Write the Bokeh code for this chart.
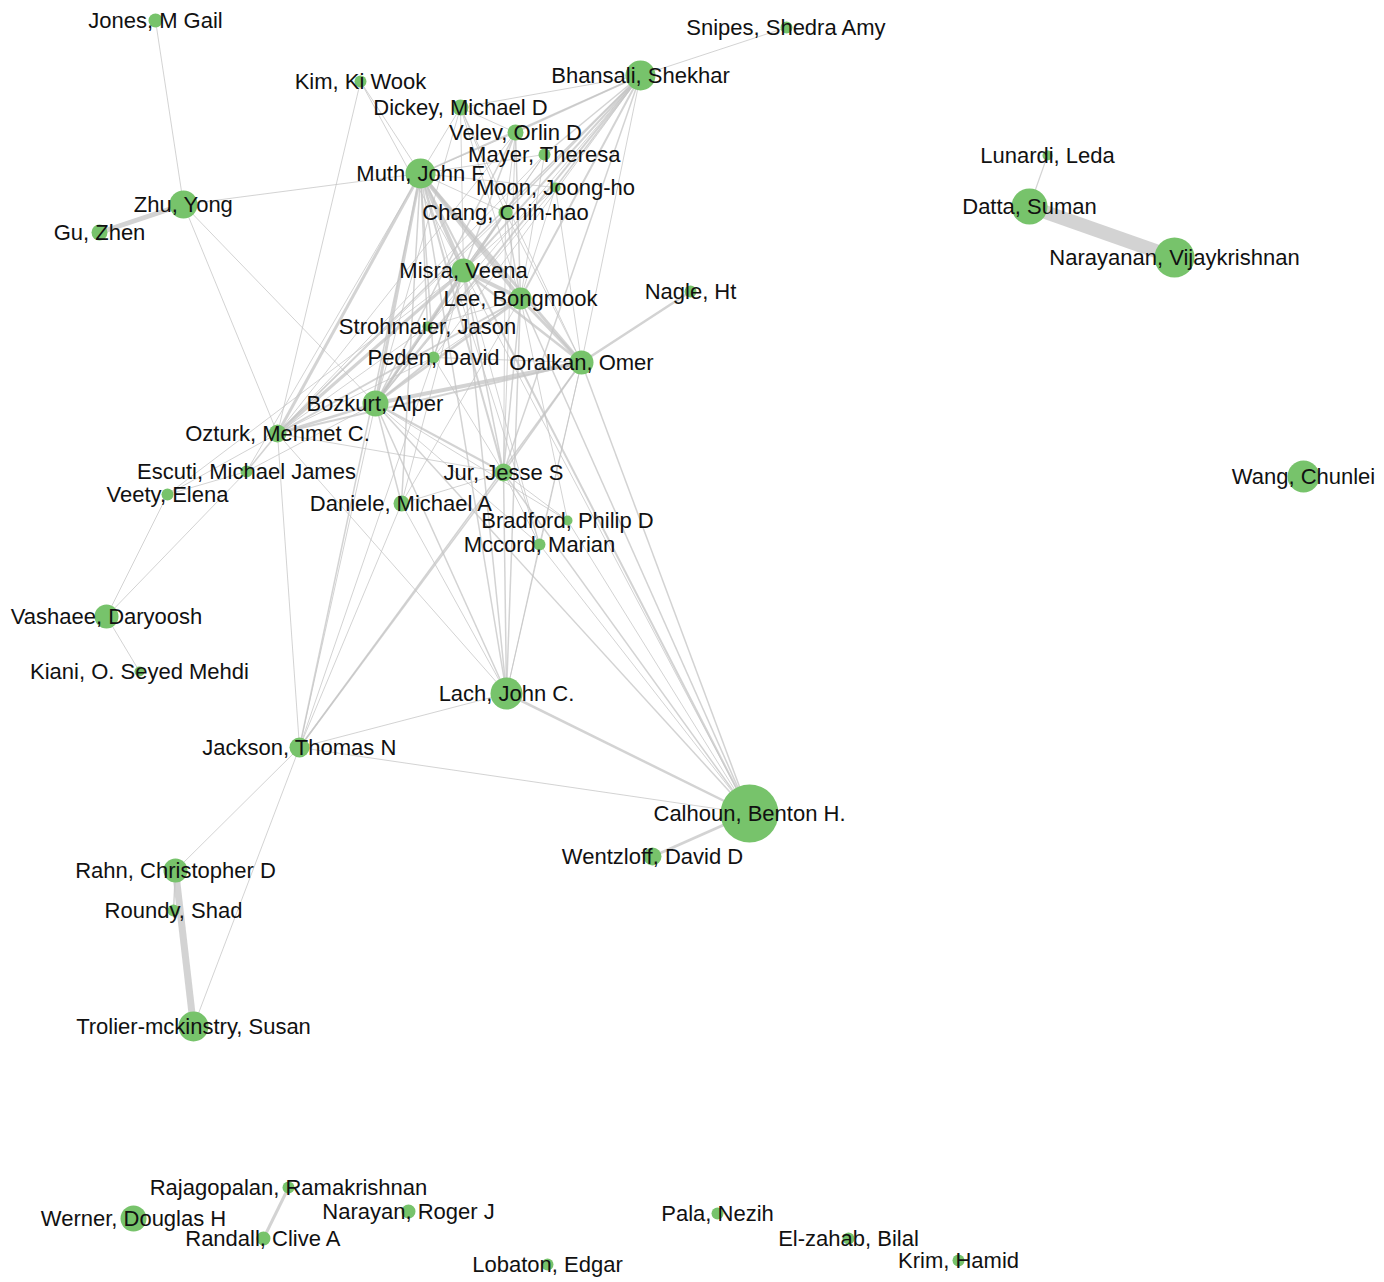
from bokeh.plotting import figure
from bokeh.models import ColumnDataSource, Range1d
from bokeh.core.properties import value
from bokeh.embed import file_html
from bokeh.resources import INLINE

# ---- nodes (layout coordinates, size = node diameter) ----
names = [
    "Jones, M Gail", "Snipes, Shedra Amy", "Bhansali, Shekhar", "Kim, Ki Wook",
    "Dickey, Michael D", "Velev, Orlin D", "Mayer, Theresa", "Muth, John F",
    "Moon, Joong-ho", "Chang, Chih-hao", "Zhu, Yong", "Gu, Zhen",
    "Misra, Veena", "Lee, Bongmook", "Strohmaier, Jason", "Peden, David",
    "Oralkan, Omer", "Nagle, Ht", "Bozkurt, Alper", "Ozturk, Mehmet C.",
    "Escuti, Michael James", "Veety, Elena", "Jur, Jesse S", "Daniele, Michael A",
    "Bradford, Philip D", "Mccord, Marian", "Vashaee, Daryoosh", "Kiani, O. Seyed Mehdi",
    "Lach, John C.", "Jackson, Thomas N", "Calhoun, Benton H.", "Wentzloff, David D",
    "Rahn, Christopher D", "Roundy, Shad", "Trolier-mckinstry, Susan", "Lunardi, Leda",
    "Datta, Suman", "Narayanan, Vijaykrishnan", "Wang, Chunlei", "Rajagopalan, Ramakrishnan",
    "Werner, Douglas H", "Randall, Clive A", "Narayan, Roger J", "Pala, Nezih",
    "El-zahab, Bilal", "Krim, Hamid", "Lobaton, Edgar",
]
node_x = [
    155, 786, 640, 360,
    460, 515, 544, 420,
    555, 505, 183, 99,
    463, 520, 427, 433,
    581, 690, 375, 277,
    246, 167, 503, 401,
    567, 539, 106, 139,
    506, 299, 749, 652,
    175, 173, 193, 1047,
    1029, 1174, 1303, 288,
    133, 263, 408, 717,
    848, 958, 547,
]
node_y = [
    20, 27, 75, 81,
    107, 132, 154, 173,
    187, 212, 204, 232,
    270, 298, 326, 357,
    362, 291, 403, 433,
    471, 494, 472, 503,
    520, 544, 616, 671,
    693, 747, 813, 856,
    870, 910, 1026, 155,
    206, 257, 476, 1187,
    1218, 1238, 1211, 1213,
    1238, 1260, 1264,
]
node_size = [
    14, 12, 30, 12,
    16, 16, 12, 30,
    10, 14, 28, 16,
    24, 22, 10, 12,
    24, 12, 26, 18,
    12, 12, 18, 16,
    10, 12, 24, 10,
    32, 20, 58, 18,
    24, 12, 30, 10,
    36, 40, 32, 12,
    26, 14, 14, 12,
    12, 12, 12,
]

# ---- edges (source, target, weight) ----
edges = [
    ("Muth, John F", "Zhu, Yong", 1), ("Muth, John F", "Dickey, Michael D", 1),
    ("Muth, John F", "Velev, Orlin D", 1), ("Muth, John F", "Mayer, Theresa", 1),
    ("Muth, John F", "Bhansali, Shekhar", 1.5), ("Muth, John F", "Chang, Chih-hao", 1),
    ("Muth, John F", "Misra, Veena", 4), ("Muth, John F", "Lee, Bongmook", 4),
    ("Muth, John F", "Oralkan, Omer", 3), ("Muth, John F", "Bozkurt, Alper", 3),
    ("Muth, John F", "Ozturk, Mehmet C.", 3), ("Muth, John F", "Peden, David", 1.5),
    ("Muth, John F", "Strohmaier, Jason", 1.5), ("Muth, John F", "Jur, Jesse S", 2),
    ("Muth, John F", "Daniele, Michael A", 1.5), ("Muth, John F", "Lach, John C.", 1.5),
    ("Muth, John F", "Calhoun, Benton H.", 2), ("Muth, John F", "Jackson, Thomas N", 1.5),
    ("Muth, John F", "Mccord, Marian", 1), ("Muth, John F", "Moon, Joong-ho", 1),
    ("Muth, John F", "Escuti, Michael James", 1), ("Muth, John F", "Kim, Ki Wook", 1),
    ("Bhansali, Shekhar", "Snipes, Shedra Amy", 1), ("Bhansali, Shekhar", "Dickey, Michael D", 1),
    ("Bhansali, Shekhar", "Velev, Orlin D", 1.5), ("Bhansali, Shekhar", "Mayer, Theresa", 1.5),
    ("Bhansali, Shekhar", "Moon, Joong-ho", 1.5), ("Bhansali, Shekhar", "Chang, Chih-hao", 1.5),
    ("Bhansali, Shekhar", "Misra, Veena", 2), ("Bhansali, Shekhar", "Lee, Bongmook", 2),
    ("Bhansali, Shekhar", "Oralkan, Omer", 1), ("Bhansali, Shekhar", "Bozkurt, Alper", 2),
    ("Bhansali, Shekhar", "Ozturk, Mehmet C.", 1.5), ("Bhansali, Shekhar", "Peden, David", 1),
    ("Bhansali, Shekhar", "Strohmaier, Jason", 1), ("Bhansali, Shekhar", "Jur, Jesse S", 1.5),
    ("Kim, Ki Wook", "Ozturk, Mehmet C.", 1), ("Kim, Ki Wook", "Misra, Veena", 1),
    ("Dickey, Michael D", "Velev, Orlin D", 1), ("Dickey, Michael D", "Misra, Veena", 1),
    ("Dickey, Michael D", "Lee, Bongmook", 1), ("Dickey, Michael D", "Chang, Chih-hao", 1),
    ("Dickey, Michael D", "Bozkurt, Alper", 1), ("Dickey, Michael D", "Oralkan, Omer", 1),
    ("Velev, Orlin D", "Misra, Veena", 1.5), ("Velev, Orlin D", "Lee, Bongmook", 1.5),
    ("Velev, Orlin D", "Chang, Chih-hao", 1), ("Velev, Orlin D", "Bozkurt, Alper", 1.5),
    ("Velev, Orlin D", "Ozturk, Mehmet C.", 1), ("Velev, Orlin D", "Jur, Jesse S", 1),
    ("Mayer, Theresa", "Misra, Veena", 1), ("Mayer, Theresa", "Lee, Bongmook", 1),
    ("Mayer, Theresa", "Bozkurt, Alper", 1), ("Mayer, Theresa", "Ozturk, Mehmet C.", 1),
    ("Moon, Joong-ho", "Misra, Veena", 1), ("Moon, Joong-ho", "Lee, Bongmook", 1),
    ("Moon, Joong-ho", "Oralkan, Omer", 1), ("Moon, Joong-ho", "Bozkurt, Alper", 1),
    ("Chang, Chih-hao", "Misra, Veena", 1.5), ("Chang, Chih-hao", "Lee, Bongmook", 1.5),
    ("Chang, Chih-hao", "Oralkan, Omer", 1), ("Chang, Chih-hao", "Bozkurt, Alper", 1.5),
    ("Chang, Chih-hao", "Ozturk, Mehmet C.", 1), ("Chang, Chih-hao", "Jur, Jesse S", 1),
    ("Misra, Veena", "Lee, Bongmook", 4), ("Misra, Veena", "Oralkan, Omer", 2.5),
    ("Misra, Veena", "Bozkurt, Alper", 3), ("Misra, Veena", "Ozturk, Mehmet C.", 3),
    ("Misra, Veena", "Peden, David", 1.5), ("Misra, Veena", "Strohmaier, Jason", 1.5),
    ("Misra, Veena", "Jur, Jesse S", 1.5), ("Misra, Veena", "Lach, John C.", 1.5),
    ("Misra, Veena", "Calhoun, Benton H.", 1), ("Misra, Veena", "Jackson, Thomas N", 1),
    ("Misra, Veena", "Daniele, Michael A", 1), ("Misra, Veena", "Mccord, Marian", 1),
    ("Lee, Bongmook", "Oralkan, Omer", 3), ("Lee, Bongmook", "Bozkurt, Alper", 2.5),
    ("Lee, Bongmook", "Ozturk, Mehmet C.", 2), ("Lee, Bongmook", "Peden, David", 1),
    ("Lee, Bongmook", "Strohmaier, Jason", 1), ("Lee, Bongmook", "Jur, Jesse S", 1.5),
    ("Lee, Bongmook", "Lach, John C.", 1.5), ("Lee, Bongmook", "Calhoun, Benton H.", 1.5),
    ("Lee, Bongmook", "Daniele, Michael A", 1), ("Lee, Bongmook", "Bradford, Philip D", 1),
    ("Oralkan, Omer", "Nagle, Ht", 2.5), ("Oralkan, Omer", "Bozkurt, Alper", 4),
    ("Oralkan, Omer", "Ozturk, Mehmet C.", 2), ("Oralkan, Omer", "Jur, Jesse S", 1.5),
    ("Oralkan, Omer", "Jackson, Thomas N", 1.5), ("Oralkan, Omer", "Lach, John C.", 1),
    ("Oralkan, Omer", "Calhoun, Benton H.", 1.5), ("Oralkan, Omer", "Mccord, Marian", 1),
    ("Oralkan, Omer", "Peden, David", 1),
    ("Bozkurt, Alper", "Ozturk, Mehmet C.", 2.5), ("Bozkurt, Alper", "Peden, David", 2),
    ("Bozkurt, Alper", "Strohmaier, Jason", 1.5), ("Bozkurt, Alper", "Jur, Jesse S", 2),
    ("Bozkurt, Alper", "Daniele, Michael A", 1.5), ("Bozkurt, Alper", "Bradford, Philip D", 1),
    ("Bozkurt, Alper", "Mccord, Marian", 1), ("Bozkurt, Alper", "Lach, John C.", 1.5),
    ("Bozkurt, Alper", "Calhoun, Benton H.", 1.5), ("Bozkurt, Alper", "Jackson, Thomas N", 1),
    ("Bozkurt, Alper", "Escuti, Michael James", 1),
    ("Ozturk, Mehmet C.", "Escuti, Michael James", 1.5), ("Ozturk, Mehmet C.", "Veety, Elena", 1),
    ("Ozturk, Mehmet C.", "Jackson, Thomas N", 1), ("Ozturk, Mehmet C.", "Jur, Jesse S", 1),
    ("Ozturk, Mehmet C.", "Lach, John C.", 1), ("Ozturk, Mehmet C.", "Zhu, Yong", 1),
    ("Ozturk, Mehmet C.", "Peden, David", 1), ("Ozturk, Mehmet C.", "Strohmaier, Jason", 1),
    ("Escuti, Michael James", "Veety, Elena", 1), ("Escuti, Michael James", "Vashaee, Daryoosh", 1),
    ("Veety, Elena", "Vashaee, Daryoosh", 1), ("Veety, Elena", "Misra, Veena", 1),
    ("Vashaee, Daryoosh", "Kiani, O. Seyed Mehdi", 1),
    ("Jur, Jesse S", "Daniele, Michael A", 1), ("Jur, Jesse S", "Bradford, Philip D", 1),
    ("Jur, Jesse S", "Mccord, Marian", 1), ("Jur, Jesse S", "Lach, John C.", 1.5),
    ("Jur, Jesse S", "Calhoun, Benton H.", 1.5), ("Jur, Jesse S", "Jackson, Thomas N", 1.5),
    ("Jur, Jesse S", "Peden, David", 1),
    ("Jackson, Thomas N", "Lach, John C.", 1), ("Jackson, Thomas N", "Calhoun, Benton H.", 1),
    ("Jackson, Thomas N", "Rahn, Christopher D", 1), ("Jackson, Thomas N", "Trolier-mckinstry, Susan", 1),
    ("Jackson, Thomas N", "Daniele, Michael A", 1),
    ("Lach, John C.", "Calhoun, Benton H.", 2.5), ("Lach, John C.", "Mccord, Marian", 1),
    ("Lach, John C.", "Daniele, Michael A", 1),
    ("Calhoun, Benton H.", "Wentzloff, David D", 3), ("Calhoun, Benton H.", "Mccord, Marian", 1),
    ("Calhoun, Benton H.", "Bradford, Philip D", 1),
    ("Rahn, Christopher D", "Trolier-mckinstry, Susan", 7), ("Rahn, Christopher D", "Roundy, Shad", 1.5),
    ("Zhu, Yong", "Gu, Zhen", 5), ("Zhu, Yong", "Jones, M Gail", 1), ("Zhu, Yong", "Bozkurt, Alper", 1),
    ("Datta, Suman", "Narayanan, Vijaykrishnan", 14), ("Datta, Suman", "Lunardi, Leda", 1.2),
    ("Rajagopalan, Ramakrishnan", "Randall, Clive A", 3),
]

pos = {n: (x, y) for n, x, y in zip(names, node_x, node_y)}
esrc = ColumnDataSource(dict(
    x0=[pos[a][0] for a, b, w in edges],
    y0=[pos[a][1] for a, b, w in edges],
    x1=[pos[b][0] for a, b, w in edges],
    y1=[pos[b][1] for a, b, w in edges],
    w=[w for a, b, w in edges],
))
nsrc = ColumnDataSource(dict(x=node_x, y=node_y, s=node_size, name=names))

W, H = 1376, 1278
p = figure(width=W, height=H, output_backend="svg", toolbar_location=None,
           x_range=Range1d(0, W), y_range=Range1d(H, 0),
           min_border=0, background_fill_color="white", border_fill_color="white")
p.axis.visible = False
p.grid.visible = False
p.outline_line_color = None

p.segment("x0", "y0", "x1", "y1", source=esrc, line_width="w",
          line_color="#c4c4c4", line_alpha=0.75)
p.scatter("x", "y", size="s", source=nsrc, fill_color="#77c36b",
          line_color=None)
p.text("x", "y", text="name", source=nsrc, text_align="center",
       text_baseline="middle", text_font=value("Liberation Sans"),
       text_font_size="22px", text_color="#111111")

open("out.html", "w").write(file_html(p, INLINE))
